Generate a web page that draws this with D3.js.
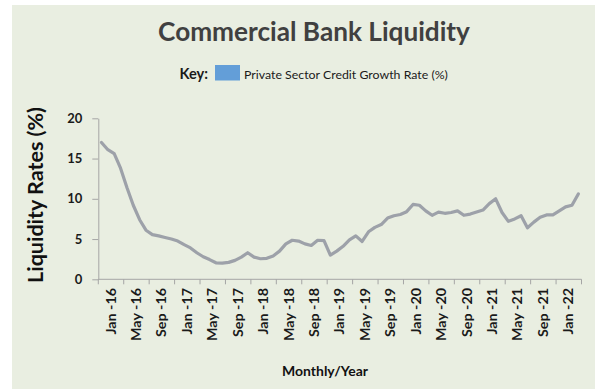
<!DOCTYPE html>
<html>
<head>
<meta charset="utf-8">
<script src="https://cdn.jsdelivr.net/npm/d3@7"></script>
<style>
  html, body { margin: 0; padding: 0; background: #ffffff; }
  svg { display: block; }
  text { font-family: Lato, "Open Sans", "DejaVu Sans", sans-serif; }
</style>
</head>
<body>
<svg id="chart" width="595" height="392"></svg>
<script>
// Month categories, January 2016 to April 2022
const months = [
  "Jan-16","Feb-16","Mar-16","Apr-16","May-16","Jun-16","Jul-16","Aug-16","Sep-16","Oct-16","Nov-16","Dec-16",
  "Jan-17","Feb-17","Mar-17","Apr-17","May-17","Jun-17","Jul-17","Aug-17","Sep-17","Oct-17","Nov-17","Dec-17",
  "Jan-18","Feb-18","Mar-18","Apr-18","May-18","Jun-18","Jul-18","Aug-18","Sep-18","Oct-18","Nov-18","Dec-18",
  "Jan-19","Feb-19","Mar-19","Apr-19","May-19","Jun-19","Jul-19","Aug-19","Sep-19","Oct-19","Nov-19","Dec-19",
  "Jan-20","Feb-20","Mar-20","Apr-20","May-20","Jun-20","Jul-20","Aug-20","Sep-20","Oct-20","Nov-20","Dec-20",
  "Jan-21","Feb-21","Mar-21","Apr-21","May-21","Jun-21","Jul-21","Aug-21","Sep-21","Oct-21","Nov-21","Dec-21",
  "Jan-22","Feb-22","Mar-22","Apr-22"
];

// Private sector credit growth rate (%), one value per month
const creditGrowth = [
  17.0, 16.1, 15.6, 13.8, 11.4, 9.2, 7.4, 6.1, 5.55, 5.4, 5.2, 5.0,
  4.75, 4.3, 3.9, 3.3, 2.8, 2.45, 2.05, 2.0, 2.1, 2.35, 2.75, 3.3,
  2.75, 2.55, 2.6, 2.9, 3.5, 4.4, 4.85, 4.75, 4.4, 4.2, 4.85, 4.8,
  3.0, 3.5, 4.1, 4.9, 5.4, 4.7, 5.9, 6.45, 6.8, 7.6, 7.9, 8.05,
  8.4, 9.3, 9.2, 8.5, 7.95, 8.35, 8.2, 8.3, 8.5, 7.95, 8.1, 8.35,
  8.6, 9.4, 10.0, 8.3, 7.2, 7.5, 7.9, 6.4, 7.1, 7.7, 8.0, 8.0,
  8.5, 9.0, 9.2, 10.6
];

// Axis labels shown every fourth month
const tickLabels = [
  "Jan -16","May -16","Sep -16","Jan -17","May -17","Sep -17","Jan -18","May -18","Sep -18",
  "Jan -19","May -19","Sep -19","Jan -20","May -20","Sep -20","Jan -21","May -21","Sep -21","Jan -22"
];
const yTicks = [0, 5, 10, 15, 20];

const chartTitle = "Commercial Bank Liquidity";
const seriesName = "Private Sector Credit Growth Rate (%)";
const yTitle = "Liquidity Rates (%)";
const xTitle = "Monthly/Year";

const svg = d3.select("#chart");

// background panel
svg.append("rect")
  .attr("x", 12).attr("y", 5).attr("width", 583).attr("height", 384)
  .attr("fill", "#e9eee1");

const plot = { left: 98.3, right: 581.5, top: 118.3, bottom: 279.3 };

const x = d3.scaleBand().domain(months).range([plot.left, plot.right]).paddingInner(0).paddingOuter(0);
const y = d3.scaleLinear().domain([0, 20]).range([plot.bottom, plot.top]);
const bw = x.bandwidth();

// scale a text's font size so that its width equals the target
function fitWidth(sel, target) {
  const node = sel.node();
  const fs = parseFloat(sel.attr("font-size"));
  const w = node.getComputedTextLength();
  sel.attr("font-size", (fs * target / w).toFixed(2));
  return sel;
}

// title
fitWidth(svg.append("text")
  .attr("x", 314).attr("y", 41)
  .attr("text-anchor", "middle")
  .attr("font-size", 26).attr("font-weight", 700)
  .attr("fill", "#404040")
  .text(chartTitle), 312);

// legend
fitWidth(svg.append("text")
  .attr("x", 179.5).attr("y", 78.5)
  .attr("font-size", 13).attr("font-weight", 700)
  .attr("fill", "#1a1a1a")
  .text("Key:"), 28.5);
svg.append("rect")
  .attr("x", 215).attr("y", 65).attr("width", 25).attr("height", 15.5)
  .attr("fill", "#639ed8");
fitWidth(svg.append("text")
  .attr("x", 244).attr("y", 78.5)
  .attr("font-size", 12).attr("font-weight", 400)
  .attr("fill", "#1a1a1a")
  .text(seriesName), 204);

// y axis
const yAxis = svg.append("g")
  .attr("transform", `translate(${plot.left},0)`)
  .call(d3.axisLeft(y).tickValues(yTicks).tickSize(6).tickPadding(10).tickSizeOuter(0));
yAxis.select(".domain").attr("stroke", "#a5a5a5").attr("stroke-width", 1);
yAxis.selectAll(".tick line").attr("stroke", "#a5a5a5");
yAxis.selectAll(".tick text")
  .attr("font-family", "Lato, 'Open Sans', sans-serif")
  .attr("font-size", 13).attr("font-weight", 700).attr("fill", "#1a1a1a");

// x axis line and tick marks at the start of each four-month group
const tickIdx = d3.range(0, months.length + 1, 4);
const tickX = i => (i < months.length ? x(months[i]) : plot.right);
svg.append("line")
  .attr("x1", plot.left).attr("x2", plot.right)
  .attr("y1", plot.bottom).attr("y2", plot.bottom)
  .attr("stroke", "#a5a5a5");
svg.append("g").selectAll("line")
  .data(tickIdx)
  .join("line")
  .attr("x1", d => tickX(d)).attr("x2", d => tickX(d))
  .attr("y1", plot.bottom).attr("y2", plot.bottom + 5)
  .attr("stroke", "#a5a5a5");

// rotated month labels, centred in their group and drawn slightly elongated
const xLab = svg.append("g").selectAll("text")
  .data(tickLabels)
  .join("text")
  .attr("text-anchor", "end")
  .attr("dy", "0.36em")
  .attr("font-size", 12.5).attr("font-weight", 700)
  .attr("fill", "#1a1a1a")
  .text(d => d);
const refLen = xLab.nodes()[1].getComputedTextLength();
const stretch = 53 / refLen;
xLab.attr("transform", (d, k) =>
  `translate(${x(months[k * 4]) + 2 * bw},288) rotate(-90) scale(${stretch.toFixed(3)},1)`);

// axis titles
fitWidth(svg.append("text")
  .attr("transform", "translate(43,195) rotate(-90)")
  .attr("text-anchor", "middle")
  .attr("font-size", 18).attr("font-weight", 700)
  .attr("fill", "#111111")
  .text(yTitle), 176);

fitWidth(svg.append("text")
  .attr("x", 325).attr("y", 376)
  .attr("text-anchor", "middle")
  .attr("font-size", 12).attr("font-weight", 700)
  .attr("fill", "#111111")
  .text(xTitle), 86);

// series line
const line = d3.line()
  .x((d, i) => x(months[i]) + bw / 2)
  .y(d => y(d));

svg.append("path")
  .datum(creditGrowth)
  .attr("d", line)
  .attr("fill", "none")
  .attr("stroke", "#9da1a9")
  .attr("stroke-width", 3.2)
  .attr("stroke-linejoin", "round")
  .attr("stroke-linecap", "round");
</script>
</body>
</html>
